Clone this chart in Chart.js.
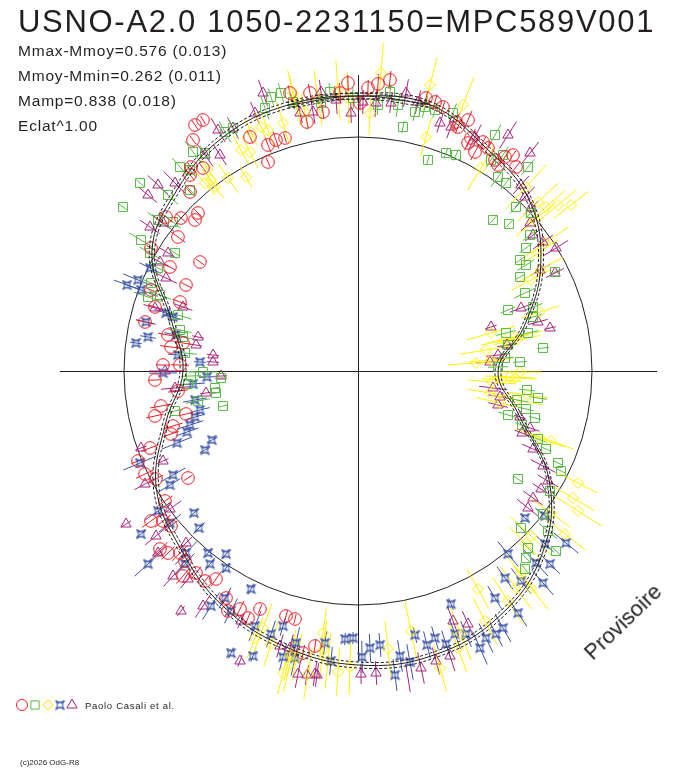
<!DOCTYPE html>
<html>
<head>
<meta charset="utf-8">
<script src="https://cdn.jsdelivr.net/npm/chart.js@4"></script>
<style>
  body { margin: 0; background: #fff; }
  #wrap { position: relative; width: 688px; height: 768px; overflow: hidden;
          font-family: "Liberation Sans", Arial, sans-serif; color: #231f20; }
  #wrap canvas { position: absolute; left: 0; top: 0; }
  .t { position: absolute; white-space: nowrap; line-height: 1; }
  #title { left: 18px; top: 6px; font-size: 31px; letter-spacing: 1.7px; }
  .info { left: 18px; font-size: 15.5px; letter-spacing: 0.8px; }
  #prov { left: 623px; top: 622px; font-size: 22px; transform: translate(-50%, -50%) rotate(-44deg); }
  #auth { left: 85px; top: 701px; font-size: 9.5px; letter-spacing: 0.7px; }
  #copy { left: 20px; top: 759px; font-size: 8px; }
</style>
</head>
<body>
<div id="wrap">
  <canvas id="chart" width="688" height="768"></canvas>
  <div class="t" id="title">USNO-A2.0 1050-2231150=MPC589V001</div>
  <div class="t info" style="top:43px">Mmax-Mmoy=0.576 (0.013)</div>
  <div class="t info" style="top:68px">Mmoy-Mmin=0.262 (0.011)</div>
  <div class="t info" style="top:93px">Mamp=0.838 (0.018)</div>
  <div class="t info" style="top:118px">Eclat^1.00</div>
  <div class="t" id="prov">Provisoire</div>
  <div class="t" id="auth">Paolo Casali et al.</div>
  <div class="t" id="copy">(c)2026 OdG-R8</div>
</div>
<script>
// fitted light curve, radius read every 15 deg (clockwise from top)
const curveAngle = [0, 15, 30, 45, 60, 75, 90, 105, 120, 135, 150, 165,
                    180, 195, 210, 225, 240, 255, 270, 285, 300, 315, 330, 345];
const curveRadius = [275, 276, 257, 242, 211, 172, 140, 166, 221, 260, 283, 294,
                     294, 285, 271, 251, 233, 199, 175, 193, 238, 256, 270, 275];
const curveSigma = 3;
const refRadius = 234;   // mean magnitude circle
const axisX = [-298, 299];
const axisY = [-290, 296];

// observations: [x, y, error] in plot units
const redPts = [
  [10,283,8],[20,287,10],[32,291,9],[2,268,6],[68,273,7],[77,269,8],[85,264,6],[98,249,9],[110,251,10],[100,244,7],
  [113,233,10],[110,228,8],[125,229,6],[117,219,9],[130,223,7],[137,211,8],[140,206,6],[147,214,9],[155,216,5],[158,204,7],
  [-68,278,8],[-48,278,9],[-35,259,7],[-51,249,6],[-18,278,10],[-10,288,8],[-73,233,5],
  [-155,251,5],[-163,246,6],[-165,231,5],[-90,226,8],[-82,231,9],[-90,209,5],[-108,234,7],[-167,204,6],[-155,203,5],
  [-168,196,7],[-168,179,5],[-160,158,6],[-163,151,5],[-177,153,7],[-192,154,8],[-180,134,9],[-207,123,5],[-188,104,6],
  [-158,109,5],[-172,86,6],[-207,81,5],[-203,64,7],[-178,69,8],[-213,49,9],[-190,36,10],[-187,24,11],[-175,28,8],
  [-195,6,7],[-178,6,9],[-203,-9,6],[-180,-20,10],[-197,-35,11],[-203,-45,9],[-172,-43,7],[-185,-55,10],[-187,-63,8],
  [-208,-77,9],[-220,-90,7],[-213,-103,10],[-202,-108,8],[-170,-107,5],[-193,-130,9],[-207,-150,11],[-195,-150,10],
  [-187,-155,8],[-198,-178,10],[-190,-182,9],[-178,-182,11],[-173,-190,8],[-175,-205,10],[-162,-202,8],[-153,-210,7],
  [-142,-208,9],[-132,-227,8],[-130,-240,7],[-118,-238,9],[-110,-247,6],[-98,-238,5],[-72,-245,6],[-63,-248,5],
  [-43,-275,7],[-55,-282,8]
];
const greenPts = [
  [20,266,10],[32,279,8],[40,266,12],[57,259,9],[67,264,11],[77,261,8],[95,258,10],[45,244,6],[70,211,5],[88,218,5],
  [98,216,6],[137,236,12],[145,216,10],[133,211,9],[140,194,12],[148,188,8],[170,204,10],[158,164,9],[173,158,7],
  [135,151,5],[151,147,5],[172,136,9],[168,123,8],[162,111,6],[168,106,10],[162,94,5],[197,99,6],[167,78,12],
  [150,61,8],[175,64,10],[175,54,9],[170,38,11],[185,23,6],[148,38,10],[150,26,8],[147,13,9],[162,9,7],[140,4,10],
  [169,-19,8],[180,-27,9],[159,-29,11],[150,-44,10],[177,-47,6],[164,-54,7],[168,-38,8],[180,-68,9],[188,-78,6],
  [200,-92,5],[203,-100,5],[160,-108,5],[192,-120,6],[185,-143,10],[163,-157,8],[190,-160,12],[198,-180,6],
  [170,-177,9],[168,-187,7],[167,-198,8],
  [-87,274,9],[-77,278,10],[-93,263,12],[-65,269,8],[-37,268,10],[-5,273,11],[-28,279,9],[-133,239,12],[-125,243,10],
  [-165,219,14],[-153,218,9],[-178,204,12],[-168,201,10],[-218,188,5],[-235,164,5],[-190,176,14],[-168,181,8],
  [-200,151,13],[-185,149,10],[-217,131,14],[-208,118,12],[-183,118,6],[-200,103,10],[-207,88,12],[-210,74,15],
  [-198,76,12],[-180,56,14],[-178,41,12],[-175,34,10],[-173,18,12],[-155,-1,14],
  [-167,-5,10],[-137,-7,6],[-143,-17,5],[-142,-22,5],[-135,-35,5],[-160,-30,12],[-170,-13,9],[-183,-40,8]
];
const yellowPts = [
  [23,298,30],[12,258,22],[72,286,28],[68,234,20],[123,203,25],[-53,259,18],[-75,248,22],[105,266,30],
  [180,169,28],[188,164,26],[200,166,24],[213,166,22],[168,184,30],[177,151,25],[187,128,28],[180,118,24],
  [182,101,26],[173,91,22],[133,38,25],[157,34,28],[147,31,24],[128,21,26],[118,8,28],[133,11,22],[182,59,20],
  [159,31,24],[162,-1,22],[152,-6,25],[144,-9,20],[134,-11,24],[132,-22,22],[159,-29,26],[142,-32,24],[170,-24,20],
  [157,-7,22],[182,-67,26],[193,-70,24],[220,-112,22],[215,-127,25],[220,-140,28],[207,-163,26],[193,-142,24],
  [173,-165,28],[168,-173,24],[163,-203,26],[173,-217,28],[120,-218,22],[158,-217,26],[150,-230,28],[127,-250,26],
  [103,-263,28],[100,-277,26],[53,-260,30],[82,-297,24],[30,-278,28],
  [-35,-262,26],[-20,-301,24],[-8,-296,28],[-35,-279,30],[-68,-284,26],[-61,-286,24],[-75,-302,22],[-103,-267,22],
  [-95,-257,26],[-87,-273,24],[-68,-293,28],[-50,-303,26],[-30,-290,28],
  [-97,244,16],[-90,241,18],[-107,239,14],[-117,221,16],[-108,219,18],[-150,201,14],[-147,191,12],[-153,188,16],
  [-143,184,14],[-130,193,18],[-112,194,12],[-65,278,24],[-63,271,26],[-40,273,28],[-20,281,30],[-10,273,26]
];
const bluePts = [
  [-231,86,14],[-220,91,16],[-208,103,12],[-217,81,18],[-212,49,10],[-210,34,8],[-222,28,6],[-182,36,12],[-158,9,6],
  [-180,16,10],[-192,58,12],[-185,54,10],[-151,-6,8],[-195,-2,14],[-163,-29,12],[-158,-39,10],[-168,-54,14],
  [-171,-61,12],[-163,-46,10],[-146,-69,6],[-153,-79,6],[-181,-72,16],[-185,-104,14],[-188,-114,12],[-218,-92,18],
  [-165,-13,12],[-200,-140,16],[-188,-152,14],[-217,-163,6],[-164,-142,6],[-159,-157,8],[-210,-193,18],[-172,-182,16],
  [-173,-193,14],[-150,-182,6],[-148,-193,8],[-132,-183,6],[-132,-197,6],[-147,-235,16],[-133,-227,12],[-127,-240,14],
  [-107,-218,6],[-103,-255,16],[-87,-263,14],[-75,-255,10],[-127,-282,6],[-105,-285,6],[-62,-272,16],[-33,-272,12],
  [-27,-290,14],[-13,-268,6],[-5,-267,6],[-63,-287,18],[-75,-286,14],
  [4,-286,16],[12,-277,14],[22,-274,12],[37,-304,16],[52,-291,18],[57,-264,8],[69,-274,14],[77,-267,12],[42,-285,16],
  [88,-273,14],[93,-233,6],[97,-263,16],[108,-263,14],[122,-277,18],[128,-267,16],[137,-227,14],[145,-257,16],
  [138,-263,14],[160,-242,16],[147,-207,14],[150,-183,16],[163,-210,16],[178,-192,18],[185,-212,16],[192,-193,14],
  [187,-173,12],[208,-172,16],[167,-147,6],[187,-145,12]
];
const purplePts = [
  [5,269,12],[18,268,14],[33,268,10],[48,278,14],[60,269,12],[82,248,10],[93,244,12],[117,234,14],[150,236,16],
  [172,218,14],[163,186,12],[167,174,14],[173,163,10],[172,148,12],[175,136,10],[185,129,12],[198,123,14],
  [182,101,12],[197,98,10],[163,63,12],[180,49,10],[133,44,6],[192,43,6],[140,16,12],[132,9,14],[149,26,10],
  [135,-17,14],[142,-26,12],[140,-34,10],[162,-46,6],[164,-62,8],[172,-57,10],[175,-78,12],[185,-95,14],
  [190,-110,12],[183,-118,10],[175,-127,12],[170,-137,14],
  [95,-250,16],[110,-253,14],[92,-285,16],[78,-290,14],[63,-297,16],[50,-307,14],[18,-302,12],[3,-303,10],
  [-41,-304,12],[-51,-304,10],[-60,-303,14],[-43,-303,12],[-68,-277,14],[-78,-275,12],
  [-117,-250,8],[-118,-290,6],[-177,-240,6],[-155,-235,14],[-170,-208,12],[-185,-205,14],[-200,-182,12],
  [-202,-165,14],[-172,-172,10],[-232,-153,6],[-217,-77,6],[-213,-113,12],[-195,-90,6],[-188,-138,14],
  [-152,-22,6],[-137,-5,6],[-183,-17,14],[-193,0,16],
  [-95,278,14],[-103,258,12],[-58,258,10],[-45,259,12],[-7,258,10],[-22,271,14],[-37,279,12],[-140,241,14],
  [-125,243,12],[-153,216,14],[-138,216,12],[-200,186,14],[-210,176,12],[-183,188,16],[-208,144,12],[-195,148,14],
  [-190,118,10],[-192,93,12],[-198,109,10],[-203,63,12],[-175,64,10],[-160,34,6],[-162,26,6],[-145,16,6],[-145,9,6]
];

const RED = '#ed1c24', GREEN = '#58b947', YELLOW = '#fff200', BLUE = '#3b54a5', PURPLE = '#a8257e', INK = '#231f20';

// four-pointed star marker for the blue series
function starMarker(color) {
  const c = document.createElement('canvas');
  c.width = 11; c.height = 11;
  const g = c.getContext('2d');
  g.strokeStyle = color;
  g.lineWidth = 1.2;
  g.beginPath();
  g.moveTo(1, 1);
  g.quadraticCurveTo(5.5, 5, 10, 1);
  g.quadraticCurveTo(6, 5.5, 10, 10);
  g.quadraticCurveTo(5.5, 6, 1, 10);
  g.quadraticCurveTo(5, 5.5, 1, 1);
  g.stroke();
  return c;
}
const blueStar = starMarker(BLUE);

function polar(angle, r) {
  const a = angle * Math.PI / 180;
  return { x: r * Math.sin(a), y: r * Math.cos(a) };
}

// closed loop: wrap one point each side so the spline joins smoothly
function curveLine(dr) {
  const n = curveAngle.length;
  const idx = [n - 1, ...curveAngle.keys(), 0, 1];
  return idx.map(i => polar(curveAngle[i], curveRadius[i] + dr));
}

function series(label, pts, color, style, radius) {
  return {
    label: label,
    data: pts.map(p => ({ x: p[0], y: p[1] })),
    errs: pts.map(p => p[2]),
    borderColor: color,
    backgroundColor: 'rgba(0,0,0,0)',
    pointStyle: style,
    pointRadius: radius,
    pointBorderWidth: 1,
    clip: false
  };
}

function curveSet(dr, dash) {
  return {
    label: 'fit',
    data: curveLine(dr),
    showLine: true,
    tension: 0.4,
    borderColor: INK,
    borderWidth: 1,
    borderDash: dash,
    pointRadius: 0,
    clip: false
  };
}

// reference circle and axes
const frame = {
  id: 'frame',
  beforeDatasetsDraw(chart) {
    const { ctx, scales: { x: xs, y: ys } } = chart;
    const cx = xs.getPixelForValue(0), cy = ys.getPixelForValue(0);
    ctx.save();
    ctx.strokeStyle = INK;
    ctx.lineWidth = 1;
    ctx.beginPath();
    ctx.moveTo(xs.getPixelForValue(axisX[0]), cy + 0.5);
    ctx.lineTo(xs.getPixelForValue(axisX[1]), cy + 0.5);
    ctx.moveTo(cx + 0.5, ys.getPixelForValue(axisY[0]));
    ctx.lineTo(cx + 0.5, ys.getPixelForValue(axisY[1]));
    ctx.stroke();
    ctx.beginPath();
    ctx.arc(cx, cy, xs.getPixelForValue(refRadius) - cx, 0, Math.PI * 2);
    ctx.stroke();
    ctx.restore();
  }
};

// radial error bars
const errorBars = {
  id: 'errorBars',
  beforeDatasetsDraw(chart) {
    const { ctx, scales: { x: xs, y: ys } } = chart;
    ctx.save();
    ctx.lineWidth = 1;
    chart.data.datasets.slice().reverse().forEach(ds => {
      if (!ds.errs) return;
      ctx.strokeStyle = ds.borderColor;
      ctx.beginPath();
      ds.data.forEach((p, i) => {
        const e = ds.errs[i];
        const r = Math.hypot(p.x, p.y);
        const ux = p.x / r, uy = p.y / r;
        ctx.moveTo(xs.getPixelForValue(p.x - e * ux), ys.getPixelForValue(p.y - e * uy));
        ctx.lineTo(xs.getPixelForValue(p.x + e * ux), ys.getPixelForValue(p.y + e * uy));
      });
      ctx.stroke();
    });
    ctx.restore();
  }
};

// legend symbols at the bottom left
const symbols = {
  id: 'symbols',
  afterDraw(chart) {
    const ctx = chart.ctx;
    const marks = [
      [RED, 'circle', 5.5, 22], [GREEN, 'rect', 5.8, 35], [YELLOW, 'rectRot', 5, 48],
      [BLUE, blueStar, 5, 60], [PURPLE, 'triangle', 6, 72]
    ];
    ctx.save();
    marks.forEach(m => {
      ctx.strokeStyle = m[0];
      ctx.fillStyle = 'rgba(0,0,0,0)';
      ctx.lineWidth = 1;
      Chart.helpers.drawPoint(ctx, { pointStyle: m[1], radius: m[2], rotation: 0, borderWidth: 1 }, m[3], 705);
    });
    ctx.restore();
  }
};

new Chart(document.getElementById('chart'), {
  type: 'scatter',
  data: {
    datasets: [
      curveSet(0, []),
      curveSet(curveSigma, [3, 2]),
      curveSet(-curveSigma, [3, 2]),
      series('R', redPts, RED, 'circle', 6.3),
      series('G', greenPts, GREEN, 'rect', 6.3),
      series('Y', yellowPts, YELLOW, 'rectRot', 5.5),
      series('B', bluePts, BLUE, blueStar, 5),
      series('P', purplePts, PURPLE, 'triangle', 6)
    ]
  },
  options: {
    responsive: false,
    animation: false,
    layout: { padding: { left: 58, right: 30, top: 71, bottom: 97 } },
    scales: {
      x: { type: 'linear', min: -300, max: 300, display: false },
      y: { type: 'linear', min: -300, max: 300, display: false }
    },
    plugins: { legend: { display: false }, tooltip: { enabled: false } }
  },
  plugins: [frame, errorBars, symbols]
});
</script>
</body>
</html>
